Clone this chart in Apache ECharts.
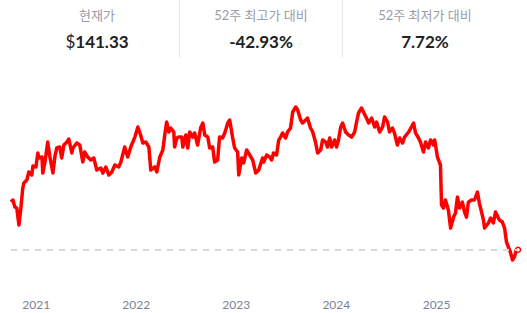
<!DOCTYPE html>
<html>
<head>
<meta charset="utf-8">
<script src="https://cdn.jsdelivr.net/npm/echarts@6/dist/echarts.min.js"></script>
<style>
html,body{margin:0;padding:0;background:#fff;}
#chart{width:527px;height:313px;}
</style>
</head>
<body>
<div id="chart"></div>
<script>
// Header stats
const statLabels = ['현재가', '52주 최고가 대비', '52주 최저가 대비'];
const statValues = ['$141.33', '-42.93%', '7.72%'];
const currentPrice = 141.33;

// X axis tick labels (years)
const yearLabels = ['2021', '2022', '2023', '2024', '2025'];

// Price series
const dates = [
'2020-10-01','2020-10-08','2020-10-15','2020-10-22','2020-10-30','2020-11-06','2020-11-13','2020-11-17','2020-11-28','2020-12-05',
'2020-12-16','2020-12-20','2020-12-31','2021-01-07','2021-01-11','2021-01-22','2021-01-25','2021-02-02','2021-02-12','2021-02-20',
'2021-03-03','2021-03-10','2021-03-17','2021-03-28','2021-04-04','2021-04-12','2021-04-23','2021-04-30','2021-05-11','2021-05-15',
'2021-05-29','2021-06-09','2021-06-20','2021-06-27','2021-07-08','2021-07-19','2021-07-30','2021-08-10','2021-08-25','2021-09-01',
'2021-09-12','2021-09-23','2021-10-04','2021-10-15','2021-10-29','2021-11-06','2021-11-20','2021-12-01','2021-12-12','2021-12-27',
'2022-01-07','2022-01-17','2022-01-25','2022-02-05','2022-02-16','2022-02-23','2022-03-10','2022-03-17','2022-03-28','2022-04-08',
'2022-04-15','2022-04-22','2022-04-30','2022-05-07','2022-05-18','2022-05-21','2022-05-29','2022-06-05','2022-06-16','2022-06-20',
'2022-07-01','2022-07-08','2022-07-15','2022-07-26','2022-08-02','2022-08-13','2022-08-24','2022-09-01','2022-09-08','2022-09-19',
'2022-09-26','2022-10-07','2022-10-14','2022-10-25','2022-11-01','2022-11-12','2022-11-20','2022-12-01','2022-12-08','2022-12-19',
'2022-12-26','2023-01-06','2023-01-10','2023-01-21','2023-01-28','2023-02-08','2023-02-19','2023-03-02','2023-03-13','2023-03-24',
'2023-04-07','2023-04-11','2023-04-22','2023-05-03','2023-05-10','2023-05-17','2023-05-28','2023-06-05','2023-06-12','2023-06-19',
'2023-06-30','2023-07-07','2023-07-18','2023-07-26','2023-08-06','2023-08-13','2023-08-24','2023-08-31','2023-09-11','2023-09-18',
'2023-09-29','2023-10-07','2023-10-17','2023-10-25','2023-11-05','2023-11-12','2023-11-23','2023-11-30','2023-12-08','2023-12-15',
'2023-12-26','2024-01-02','2024-01-09','2024-01-17','2024-01-24','2024-02-04','2024-02-15','2024-02-26','2024-03-08','2024-03-15',
'2024-03-22','2024-04-02','2024-04-09','2024-04-20','2024-04-28','2024-05-09','2024-05-20','2024-05-27','2024-06-07','2024-06-18',
'2024-06-25','2024-07-06','2024-07-13','2024-07-24','2024-07-31','2024-08-11','2024-08-19','2024-08-30','2024-09-06','2024-09-21',
'2024-10-01','2024-10-09','2024-10-16','2024-10-27','2024-11-03','2024-11-14','2024-11-22','2024-12-02','2024-12-10','2024-12-21',
'2024-12-25','2025-01-04','2025-01-12','2025-01-15','2025-01-19','2025-01-26','2025-02-02','2025-02-13','2025-02-21','2025-03-04',
'2025-03-11','2025-03-18','2025-03-26','2025-04-05','2025-04-13','2025-04-20','2025-04-27','2025-05-08','2025-05-19','2025-05-30',
'2025-06-06','2025-06-14','2025-06-21','2025-06-25','2025-07-09','2025-07-17','2025-07-27','2025-08-04','2025-08-18','2025-08-29',
'2025-09-06','2025-09-13','2025-09-20','2025-09-27','2025-10-05','2025-10-12','2025-10-19','2025-10-25'
];
const prices = [
186.8,188.7,182.0,181.0,164.9,181.0,200.1,204.9,207.8,215.4,
212.5,221.1,220.2,233.5,228.7,229.7,214.4,224.9,244.0,229.7,
214.4,229.7,238.3,239.2,228.7,241.1,244.0,246.8,233.5,238.3,
243.0,241.1,224.9,234.4,229.7,226.8,228.7,217.3,219.2,214.4,
220.2,212.5,215.4,222.1,220.2,224.9,239.2,229.7,239.2,248.7,
258.3,250.6,243.0,244.0,239.2,217.3,220.2,215.4,229.7,236.4,
250.6,263.0,253.5,257.3,253.5,239.2,247.8,248.7,248.7,239.2,
250.6,238.3,253.5,248.7,252.6,241.1,257.3,262.1,250.6,248.7,
238.3,239.2,224.9,226.8,248.7,247.8,252.6,262.1,264.9,247.8,
238.3,234.4,212.5,228.7,224.0,236.4,231.6,226.8,214.4,217.3,
228.7,224.9,231.6,229.7,226.8,233.5,231.6,245.9,248.7,252.6,
247.8,253.5,257.3,272.6,277.3,274.5,264.9,262.1,264.9,266.8,
257.3,253.5,244.0,233.5,236.4,245.9,244.0,239.2,247.8,239.2,
245.9,239.2,245.9,258.3,262.1,253.5,250.6,248.7,253.5,263.0,
271.6,276.4,272.6,266.8,262.1,266.8,258.3,263.0,253.5,258.3,
267.8,263.0,253.5,257.3,252.6,241.1,247.8,243.0,248.7,253.5,
258.3,262.1,252.6,247.8,244.0,234.4,244.0,238.3,245.9,241.1,
245.9,229.7,224.0,222.1,183.9,181.0,188.7,179.1,162.0,172.5,
176.3,191.6,181.0,186.7,177.2,172.4,186.7,188.7,188.7,196.3,
185.8,177.2,169.6,162.0,166.8,171.5,166.8,177.2,169.6,167.7,
162.0,148.7,143.9,139.2,131.5,134.5,141.3,141.33
];

function toTime(s) {
  const p = s.split('-');
  return new Date(+p[0], +p[1] - 1, +p[2]).getTime();
}

const seriesData = dates.map(function (d, i) {
  const item = { value: [toTime(d), prices[i]] };
  if (i === dates.length - 1) {
    item.symbol = 'circle';
    item.symbolSize = 5;
    item.itemStyle = { color: '#ffffff', borderColor: '#ff0000', borderWidth: 1.5 };
  }
  return item;
});

const yearTicks = yearLabels.map(function (y) { return new Date(+y, 0, 1).getTime(); });

const fontFamily = 'Lato, "Noto Sans CJK KR", "Noto Sans", sans-serif';
const colCenters = [97, 261, 425];

const graphics = [];
statLabels.forEach(function (t, i) {
  graphics.push({
    type: 'text', x: colCenters[i], y: 15,
    style: { text: t, textAlign: 'center', textVerticalAlign: 'middle',
      fill: '#9c9ca6', fontSize: 13, fontFamily: fontFamily }
  });
});
graphics.push({
  type: 'text', x: colCenters[0], y: 41,
  style: {
    text: '{a|$}{b|' + statValues[0].slice(1) + '}',
    textAlign: 'center', textVerticalAlign: 'middle',
    rich: {
      a: { fontSize: 17, fontWeight: 'normal', fill: '#222222', fontFamily: fontFamily },
      b: { fontSize: 17, fontWeight: 'bold', fill: '#222222', fontFamily: fontFamily }
    }
  }
});
for (let i = 1; i < 3; i++) {
  graphics.push({
    type: 'text', x: colCenters[i], y: 41,
    style: { text: statValues[i], textAlign: 'center', textVerticalAlign: 'middle',
      fill: '#222222', fontSize: 17, fontWeight: 'bold', fontFamily: fontFamily }
  });
}
[179, 342].forEach(function (x) {
  graphics.push({
    type: 'line', shape: { x1: x + 0.5, y1: 0, x2: x + 0.5, y2: 58 },
    style: { stroke: '#e4e5ee', lineWidth: 1 }
  });
});

const chart = echarts.init(document.getElementById('chart'), null, { renderer: 'svg' });
chart.setOption({
  animation: false,
  backgroundColor: '#ffffff',
  graphic: graphics,
  grid: { left: 11, right: 9, top: 100, bottom: 43 },
  xAxis: {
    type: 'value',
    min: toTime('2020-10-01'),
    max: toTime('2025-10-25'),
    axisLine: { show: false },
    axisTick: { show: false },
    splitLine: { show: false },
    axisLabel: {
      customValues: yearTicks,
      formatter: function (v) { return String(new Date(v).getFullYear()); },
      color: '#7c8199',
      fontSize: 12,
      fontFamily: fontFamily,
      margin: 28,
      showMinLabel: true,
      showMaxLabel: true
    }
  },
  yAxis: {
    type: 'value',
    min: 122,
    max: 284,
    show: false,
    splitLine: { show: false }
  },
  series: [{
    type: 'line',
    data: seriesData,
    symbol: 'none',
    showSymbol: true,
    lineStyle: { color: '#ff0000', width: 3.5, join: 'round' },
    itemStyle: { color: '#ff0000' },
    z: 3,
    markLine: {
      silent: true,
      symbol: 'none',
      label: { show: false },
      lineStyle: { color: '#d3d5e6', type: [6, 6], width: 2 },
      data: [{ yAxis: currentPrice }]
    }
  }]
});
</script>
</body>
</html>
